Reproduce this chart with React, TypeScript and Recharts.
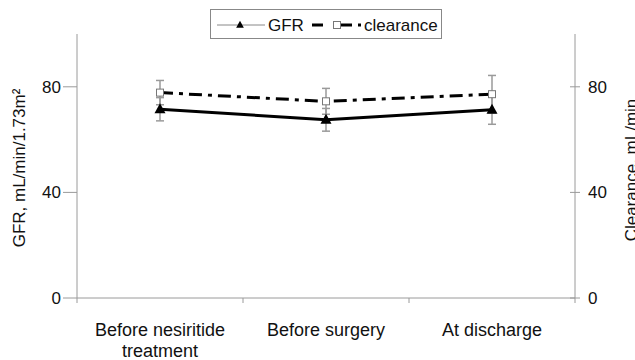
import { LineChart, Line, XAxis, YAxis, ErrorBar } from "recharts";

const CATEGORIES = ["Before nesiritide treatment", "Before surgery", "At discharge"];
const CATEGORY_LINES = [["Before nesiritide", "treatment"], ["Before surgery"], ["At discharge"]];
const GFR = [71.5, 67.5, 71.3];
const GFR_ERR = [4.4, 4.3, 5.5];
const CLEARANCE = [77.8, 74.5, 77.2];
const CLEARANCE_ERR = [4.6, 4.9, 7.1];
const Y_TICKS = [0, 40, 80];
const X_TICKS = [0, 0.5, 1, 1.5, 2, 2.5, 3];

const FONT = '"Liberation Sans", Arial, sans-serif';
const AXIS = "#9a9a9a";

const data = CATEGORIES.map((name, i) => ({
  name,
  x: i + 0.5,
  gfr: GFR[i],
  gfrErr: GFR_ERR[i],
  clearance: CLEARANCE[i],
  clearanceErr: CLEARANCE_ERR[i],
}));

// integer ticks are the category boundaries, half ticks carry the labels
const XTick = ({ x, y, payload }: any) => {
  const v = payload.value;
  if (Number.isInteger(v)) {
    return <line x1={x} x2={x} y1={y} y2={y + 5} stroke={AXIS} strokeWidth={1} />;
  }
  const lines = CATEGORY_LINES[Math.floor(v)];
  return (
    <text x={x} y={y + 38} textAnchor="middle" fontSize={18} fontFamily={FONT} fill="#111">
      {lines.map((l, i) => (
        <tspan key={i} x={x} dy={i === 0 ? 0 : 21}>
          {l}
        </tspan>
      ))}
    </text>
  );
};

const RightTick = ({ x, y, payload }: any) => (
  <g>
    <line x1={x - 5} x2={x + 5} y1={y} y2={y} stroke={AXIS} strokeWidth={1} />
    <text x={x + 13} y={y + 6} fontSize={17} fontFamily={FONT} fill="#111">
      {payload.value}
    </text>
  </g>
);

const Triangle = ({ cx, cy, s = 1 }: any) => (
  <path
    d={`M${cx},${cy - 6 * s} L${cx + 5.5 * s},${cy + 4 * s} L${cx - 5.5 * s},${cy + 4 * s} Z`}
    fill="#000"
  />
);

const Square = ({ cx, cy }: any) => (
  <rect x={cx - 3.5} y={cy - 3.5} width={7} height={7} fill="#fff" stroke="#777" strokeWidth={1} />
);

export default function App() {
  return (
    <div style={{ position: "absolute", left: 0, top: 0, width: 635, height: 360, background: "#fff" }}>
      <LineChart width={635} height={360} data={data} margin={{ top: 34, right: 0, bottom: 0, left: 0 }}>
        <XAxis
          dataKey="x"
          type="number"
          domain={[0, 3]}
          ticks={X_TICKS}
          interval={0}
          tick={<XTick />}
          tickLine={false}
          tickSize={0}
          tickMargin={0}
          height={62}
          stroke={AXIS}
        />
        <YAxis
          yAxisId="left"
          domain={[0, 100]}
          ticks={Y_TICKS}
          width={77}
          stroke={AXIS}
          tickSize={14}
          tickMargin={2}
          tick={{ fontSize: 17, fontFamily: FONT, fill: "#111" }}
          label={{
            content: () => (
              <text
                x={25}
                y={168}
                transform="rotate(-90 25 168)"
                textAnchor="middle"
                fontSize={17}
                fontFamily={FONT}
                fill="#111"
              >
                GFR, mL/min/1.73m²
              </text>
            ),
          }}
        />
        <YAxis
          yAxisId="right"
          orientation="right"
          domain={[0, 100]}
          ticks={Y_TICKS}
          width={60}
          stroke={AXIS}
          tickLine={false}
          tickSize={0}
          tickMargin={0}
          tick={<RightTick />}
          label={{
            content: () => (
              <text
                x={637}
                y={170}
                transform="rotate(-90 637 170)"
                textAnchor="middle"
                fontSize={17}
                fontFamily={FONT}
                fill="#111"
              >
                Clearance, mL/min
              </text>
            ),
          }}
        />
        <Line
          yAxisId="right"
          dataKey="clearance"
          stroke="#000"
          strokeWidth={3}
          strokeDasharray="13 6 4 6"
          dot={<Square />}
          activeDot={false}
          isAnimationActive={false}
        >
          <ErrorBar dataKey="clearanceErr" direction="y" width={4} stroke={AXIS} strokeWidth={1.5} />
        </Line>
        <Line
          yAxisId="left"
          dataKey="gfr"
          stroke="#000"
          strokeWidth={3}
          dot={<Triangle />}
          activeDot={false}
          isAnimationActive={false}
        >
          <ErrorBar dataKey="gfrErr" direction="y" width={4} stroke={AXIS} strokeWidth={1.5} />
        </Line>
      </LineChart>
      <svg width={635} height={42} style={{ position: "absolute", left: 0, top: 0, pointerEvents: "none" }}>
        <rect x={210.5} y={9.5} width={231} height={29} fill="#fff" stroke="#888" strokeWidth={1} />
        <line x1={217} x2={265} y1={25} y2={25} stroke="#888" strokeWidth={1} />
        <Triangle cx={240} cy={25} s={0.7} />
        <text x={268} y={31} fontSize={17} fontFamily={FONT} fill="#111">
          GFR
        </text>
        <line x1={312} x2={323} y1={25} y2={25} stroke="#000" strokeWidth={3} />
        <Square cx={337} cy={25} />
        <line x1={341} x2={352} y1={25} y2={25} stroke="#000" strokeWidth={3} />
        <line x1={358} x2={361} y1={25} y2={25} stroke="#000" strokeWidth={3} />
        <text x={364} y={31} fontSize={17} fontFamily={FONT} fill="#111">
          clearance
        </text>
      </svg>
    </div>
  );
}
